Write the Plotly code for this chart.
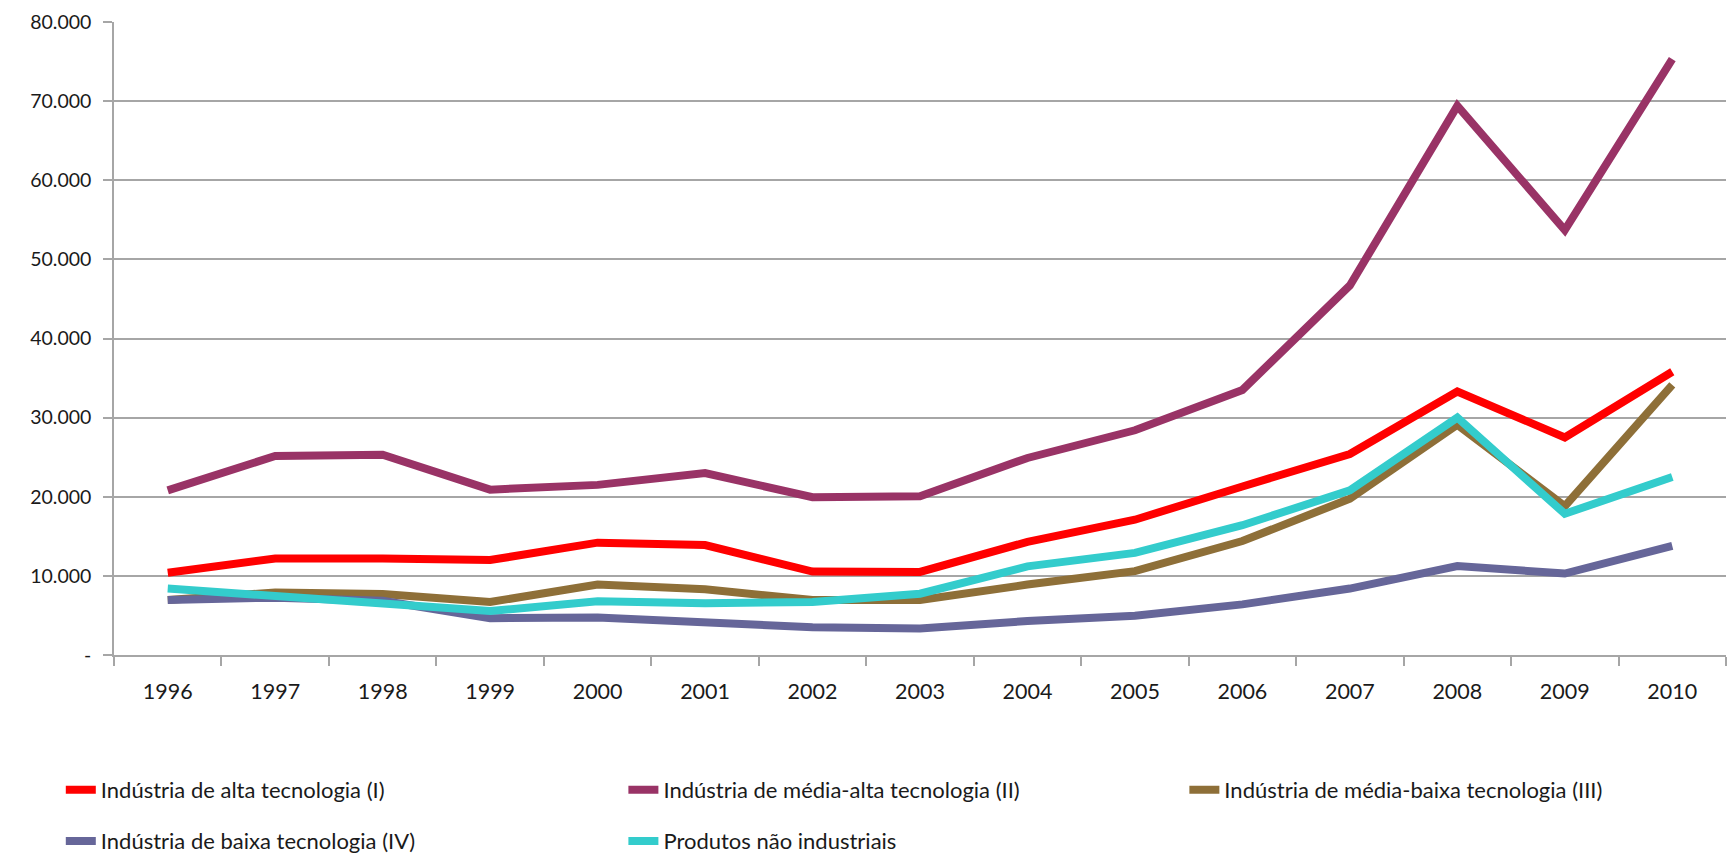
import plotly.graph_objects as go

# Exportações por intensidade tecnológica, 1996-2010
anos = ["1996", "1997", "1998", "1999", "2000", "2001", "2002", "2003",
        "2004", "2005", "2006", "2007", "2008", "2009", "2010"]

alta_tecnologia = [10400, 12200, 12200, 12000, 14200, 13900, 10550, 10500,
                   14300, 17100, 21300, 25400, 33300, 27500, 35800]
media_alta_tecnologia = [20800, 25150, 25300, 20900, 21500, 23000, 19950, 20050,
                         24900, 28400, 33500, 46700, 69400, 53700, 75300]
media_baixa_tecnologia = [6950, 7900, 7700, 6700, 8900, 8300, 6950, 6950,
                          8900, 10600, 14400, 19750, 29100, 18800, 34150]
baixa_tecnologia = [6950, 7250, 6850, 4650, 4750, 4050, 3500, 3350,
                    4300, 4950, 6400, 8400, 11250, 10300, 13800]
nao_industriais = [8400, 7400, 6300, 5550, 6800, 6550, 6700, 7750,
                   11200, 12900, 16400, 20800, 30000, 17850, 22500]

y_ticks = [0, 10000, 20000, 30000, 40000, 50000, 60000, 70000, 80000]
y_tick_labels = ["-", "10.000", "20.000", "30.000", "40.000",
                 "50.000", "60.000", "70.000", "80.000"]

# name, values, colour, legend id, legend column (x, paper), legend row (y, paper)
series = [
    ("Indústria de alta tecnologia (I)", alta_tecnologia, "#FF0000", "legend", -0.033, -0.2133),
    ("Indústria de média-alta tecnologia (II)", media_alta_tecnologia, "#993366", "legend2", 0.316, -0.2133),
    ("Indústria de média-baixa tecnologia (III)", media_baixa_tecnologia, "#8E6F38", "legend3", 0.664, -0.2133),
    ("Indústria de baixa tecnologia (IV)", baixa_tecnologia, "#666699", "legend4", -0.033, -0.294),
    ("Produtos não industriais", nao_industriais, "#33CCCC", "legend5", 0.316, -0.294),
]

FONT = "Lato, sans-serif"
TEXT = "#1A1A1A"
GRID = "#A6A6A6"

fig = go.Figure()
legends = {}
for nome, valores, cor, leg, lx, ly in series:
    fig.add_trace(go.Scatter(
        x=anos, y=valores, name=nome, mode="lines",
        line=dict(color=cor, width=8, shape="linear"),
        legend=leg,
    ))
    legends[leg] = dict(
        orientation="h",
        xanchor="left", yanchor="middle",
        x=lx, y=ly,
        font=dict(family=FONT, size=22, color=TEXT),
        bgcolor="rgba(0,0,0,0)",
        itemclick=False, itemdoubleclick=False,
    )

fig.update_layout(
    width=1727, height=857,
    margin=dict(l=114, r=1, t=22, b=202, autoexpand=False),
    plot_bgcolor="white", paper_bgcolor="white",
    font=dict(family=FONT, color=TEXT),
    showlegend=True,
    **legends,
    xaxis=dict(
        type="category", range=[-0.5, 14.5],
        showgrid=False, zeroline=False,
        showline=True, linecolor=GRID, linewidth=1.5,
        ticks="outside", tickson="boundaries", ticklen=9,
        tickcolor=GRID, tickwidth=1.5,
        tickfont=dict(family=FONT, size=21.5, color=TEXT),
        ticklabelstandoff=16,
    ),
    yaxis=dict(
        range=[0, 80000],
        tickvals=y_ticks, ticktext=y_tick_labels,
        showgrid=True, gridcolor=GRID, gridwidth=1.5,
        zeroline=False,
        showline=True, linecolor=GRID, linewidth=1.5,
        ticks="outside", ticklen=9, tickcolor=GRID, tickwidth=1.5,
        tickfont=dict(family=FONT, size=19.5, color=TEXT),
        ticklabelstandoff=8,
    ),
)

fig.write_html("out.html")
